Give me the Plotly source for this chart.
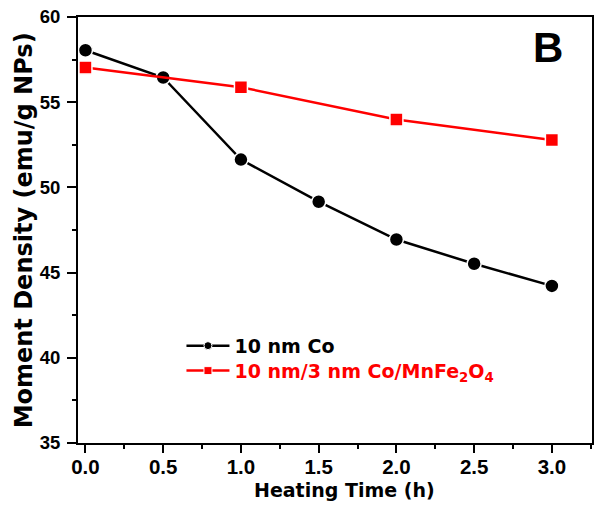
import plotly.graph_objects as go

time_co = [0.0, 0.5, 1.0, 1.5, 2.0, 2.5, 3.0]
moment_co = [58.05, 56.45, 51.63, 49.16, 46.94, 45.52, 44.22]
time_shell = [0.0, 1.0, 2.0, 3.0]
moment_shell = [57.03, 55.88, 53.98, 52.78]
x_ticks = [0.0, 0.5, 1.0, 1.5, 2.0, 2.5, 3.0]
x_tick_labels = ["0.0", "0.5", "1.0", "1.5", "2.0", "2.5", "3.0"]
y_ticks = [35, 40, 45, 50, 55, 60]
name_co = "10 nm Co"
name_shell = "10 nm/3 nm Co/MnFe<sub>2</sub>O<sub>4</sub>"

TICKFONT = "Liberation Sans, Arial, sans-serif"
TITLEFONT = "DejaVu Sans, Verdana, sans-serif"

# the page body adds an 8 px margin; compensate so the plot lands where the reference has it
OFF = 8
PAGE_W, PAGE_H = 602, 507
L, RGT, T, BOT = 77.5, 591.7, 17, 443.3   # plot-area edges in page pixels
W, H = PAGE_W - OFF, PAGE_H - OFF
PW, PH = RGT - L, BOT - T


def px_x(px):
    return (px - L) / PW


def px_y(py):
    return 1 - (py - T) / PH


fig = go.Figure()
fig.add_trace(go.Scatter(
    x=time_co, y=moment_co, mode="lines+markers", showlegend=False,
    line=dict(color="black", width=2.5),
    marker=dict(symbol="circle", size=14, color="black",
                line=dict(color="white", width=1.5)),
))
fig.add_trace(go.Scatter(
    x=time_shell, y=moment_shell, mode="lines+markers", showlegend=False,
    line=dict(color="#ff0000", width=2.5),
    marker=dict(symbol="square", size=13, color="#ff0000",
                line=dict(color="white", width=1.5)),
))
# legend entries (smaller symbols like the reference)
fig.add_trace(go.Scatter(
    x=[None], y=[None], mode="lines+markers", name=name_co, legend="legend",
    line=dict(color="black", width=2.5),
    marker=dict(symbol="circle", size=8, color="black", line=dict(color="white", width=1)),
))
fig.add_trace(go.Scatter(
    x=[None], y=[None], mode="lines+markers", legend="legend2",
    name='<span style="color:#ff0000">' + name_shell + '</span>',
    line=dict(color="#ff0000", width=2.5),
    marker=dict(symbol="square", size=8, color="#ff0000", line=dict(color="white", width=1)),
))

fig.add_annotation(x=px_x(548), y=px_y(48), xref="paper", yref="paper", text="<b>B</b>",
                   showarrow=False, xanchor="center", yanchor="middle",
                   font=dict(family=TICKFONT, size=42, color="black"))
fig.add_annotation(x=px_x(344.5), y=px_y(490), xref="paper", yref="paper",
                   text="<b>Heating Time (h)</b>", showarrow=False,
                   xanchor="center", yanchor="middle",
                   font=dict(family=TITLEFONT, size=19, color="black"))
fig.add_annotation(x=px_x(23), y=px_y(231), xref="paper", yref="paper",
                   text="<b>Moment Density (emu/g NPs)</b>", showarrow=False, textangle=-90,
                   xanchor="center", yanchor="middle",
                   font=dict(family=TITLEFONT, size=24, color="black"))

legend_common = dict(xanchor="left", yanchor="top", bgcolor="rgba(0,0,0,0)", itemwidth=43,
                     font=dict(family=TITLEFONT, size=19, color="black", weight="bold"))
fig.update_layout(
    width=W, height=H,
    margin=dict(l=L - OFF, r=PAGE_W - RGT, t=T - OFF, b=PAGE_H - BOT, autoexpand=False),
    paper_bgcolor="white", plot_bgcolor="white",
    font=dict(family=TICKFONT, color="black"),
    showlegend=True,
    legend=dict(x=px_x(181), y=px_y(327), **legend_common),
    legend2=dict(x=px_x(181), y=px_y(352), **legend_common),
)

fig.update_xaxes(
    range=[-0.048, 3.258], tickvals=x_ticks, ticktext=x_tick_labels,
    showgrid=False, zeroline=False, automargin=False,
    showline=True, linecolor="black", linewidth=2, mirror=True,
    ticks="outside", ticklen=8, tickwidth=2, tickcolor="black",
    minor=dict(dtick=0.25, ticks="outside", ticklen=4, tickwidth=2, tickcolor="black"),
    tickfont=dict(family=TICKFONT, size=20.5, color="black", weight="bold"),
    ticklabelstandoff=-4, ticklabeloverflow="allow",
)
fig.update_yaxes(
    range=[35, 60], tickvals=y_ticks,
    showgrid=False, zeroline=False, automargin=False,
    showline=True, linecolor="black", linewidth=2, mirror=True,
    ticks="outside", ticklen=9, tickwidth=2, tickcolor="black",
    minor=dict(dtick=2.5, ticks="outside", ticklen=4, tickwidth=2, tickcolor="black"),
    tickfont=dict(family=TICKFONT, size=18.5, color="black", weight="bold"),
    ticklabelstandoff=3, ticklabeloverflow="allow",
)

fig.write_html("out.html")
